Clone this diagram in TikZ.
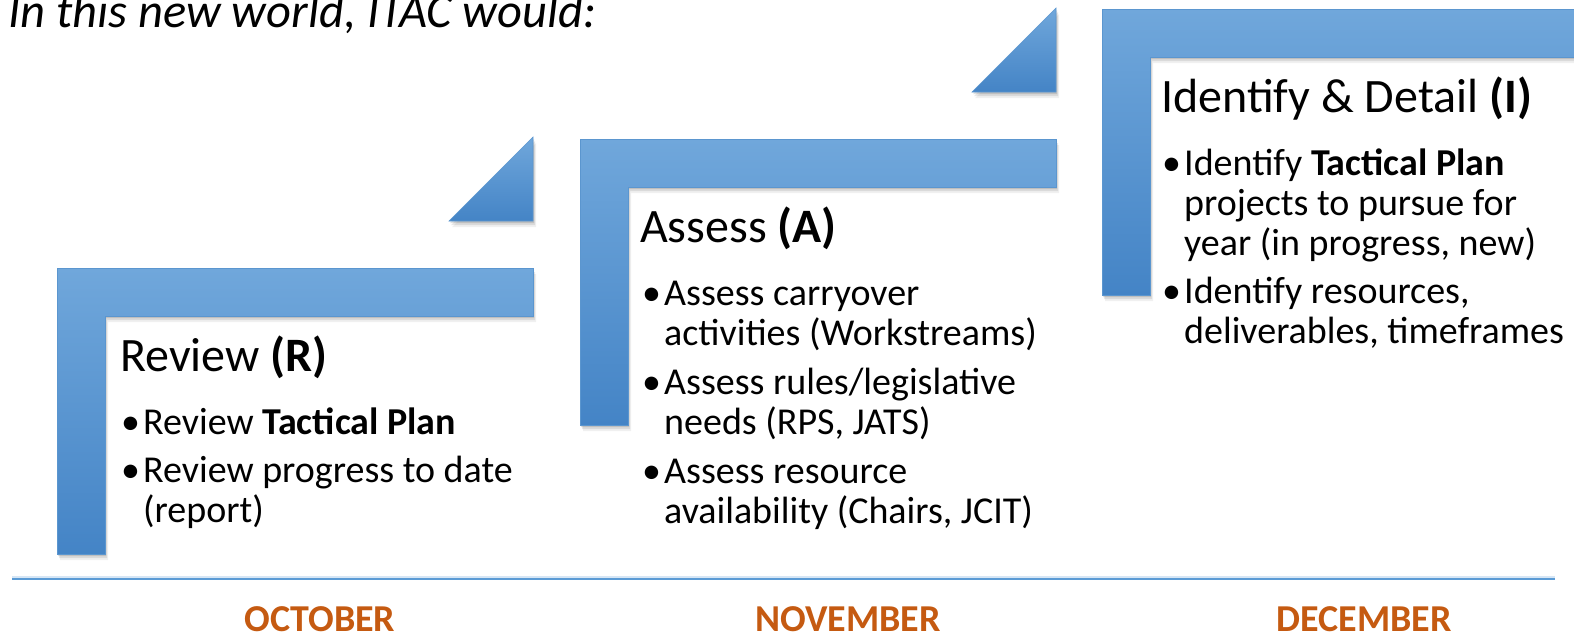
\documentclass[tikz,border=0pt]{standalone}
\usepackage{fontspec}
\setmainfont{Carlito}
\definecolor{barTop}{HTML}{70A7DB}
\definecolor{barBot}{HTML}{4484C6}
\definecolor{barEdge}{HTML}{5B96CF}
\definecolor{monthCol}{HTML}{C55A11}
\definecolor{lineCol}{HTML}{5B9BD5}
\definecolor{lineGlow}{HTML}{D6E6F5}
\newcommand{\bul}{\leavevmode\llap{\makebox[22pt][l]{•}}}
\newcommand{\blist}[1]{\parbox[t]{440pt}{\raggedright #1}}
\tikzset{
  lfill/.style={top color=barTop, bottom color=barBot, draw=barEdge, line width=0.6pt},
  shadowfill/.style={fill=black, fill opacity=#1, draw=none},
  headtext/.style={anchor=base west, inner sep=0pt, font=\fontsize{48}{52}\selectfont},
  bullets/.style={anchor=base west, inner sep=0pt, font=\fontsize{38}{40}\selectfont},
  month/.style={anchor=base, inner sep=0pt, text=monthCol, font=\fontsize{38}{40}\selectfont\bfseries},
  pics/lshape/.style={code={
    \foreach \dx/\dy/\op in {1/2/0.12, 2/4/0.09, 3/6/0.06}{
      \path[shadowfill=\op, shift={(\dx,\dy)}] (0,0) -- (476,0) -- (476,48) -- (48,48) -- (48,286) -- (0,286) -- cycle;
    }
    \path[lfill] (0,0) -- (476,0) -- (476,48) -- (48,48) -- (48,286) -- (0,286) -- cycle;
  }},
  pics/tri/.style={code={
    \foreach \dx/\dy/\op in {1/2/0.12, 2/4/0.09, 3/6/0.06}{
      \path[shadowfill=\op, shift={(\dx,\dy)}] (84,0) -- (84,84) -- (0,84) -- cycle;
    }
    \path[lfill] (84,0) -- (84,84) -- (0,84) -- cycle;
  }}
}
\begin{document}
\begin{tikzpicture}[x=1pt,y=-1pt]
\useasboundingbox (0,0) rectangle (1574,632);
\fill[white] (0,0) rectangle (1574,632);

% title
\node[anchor=base west, inner sep=0pt, font=\fontsize{48.5}{58}\selectfont\itshape] (title) at (8,27) {In this new world, ITAC would:};

% shapes
\pic (shR) at (57,268) {lshape};
\pic (triR) at (449,137) {tri};
\pic (shA) at (580,139) {lshape};
\pic (triA) at (972,8) {tri};
\pic (shI) at (1102,9) {lshape};

% Review
\node[headtext] (hR) at (120,371) {Review \textbf{(R)}};
\node[bullets] (bR) at (143,434) {\blist{\bul Review \textbf{Tactical Plan}\\[8pt]
\bul Review progress to date\\
(report)}};

% Assess
\node[headtext] (hA) at (640,242) {Assess \textbf{(A)}};
\node[bullets] (bA) at (664,305) {\blist{\bul Assess carryover\\
activities (Workstreams)\\[9pt]
\bul Assess rules/legislative\\
needs (RPS, JATS)\\[9pt]
\bul Assess resource\\
availability (Chairs, JCIT)}};

% Identify
\node[headtext] (hI) at (1161,112) {Identify \& Detail \textbf{(I)}};
\node[bullets] (bI) at (1184,175) {\blist{\bul Identify \textbf{Tactical Plan}\\
projects to pursue for\\
year (in progress, new)\\[8pt]
\bul Identify resources,\\
deliverables, timeframes}};

% timeline
\coordinate (tl0) at (12,579);
\coordinate (tl1) at (1555,579);
\draw[lineGlow, line width=2pt] ([yshift=2pt]tl0) -- ([yshift=2pt]tl1);
\draw[lineCol, line width=2.5pt] (tl0) -- (tl1);

\node[month] (oct) at (320,631) {OCTOBER};
\node[month] (nov) at (848,631) {NOVEMBER};
\node[month] (dec) at (1364,631) {DECEMBER};
\end{tikzpicture}
\end{document}
